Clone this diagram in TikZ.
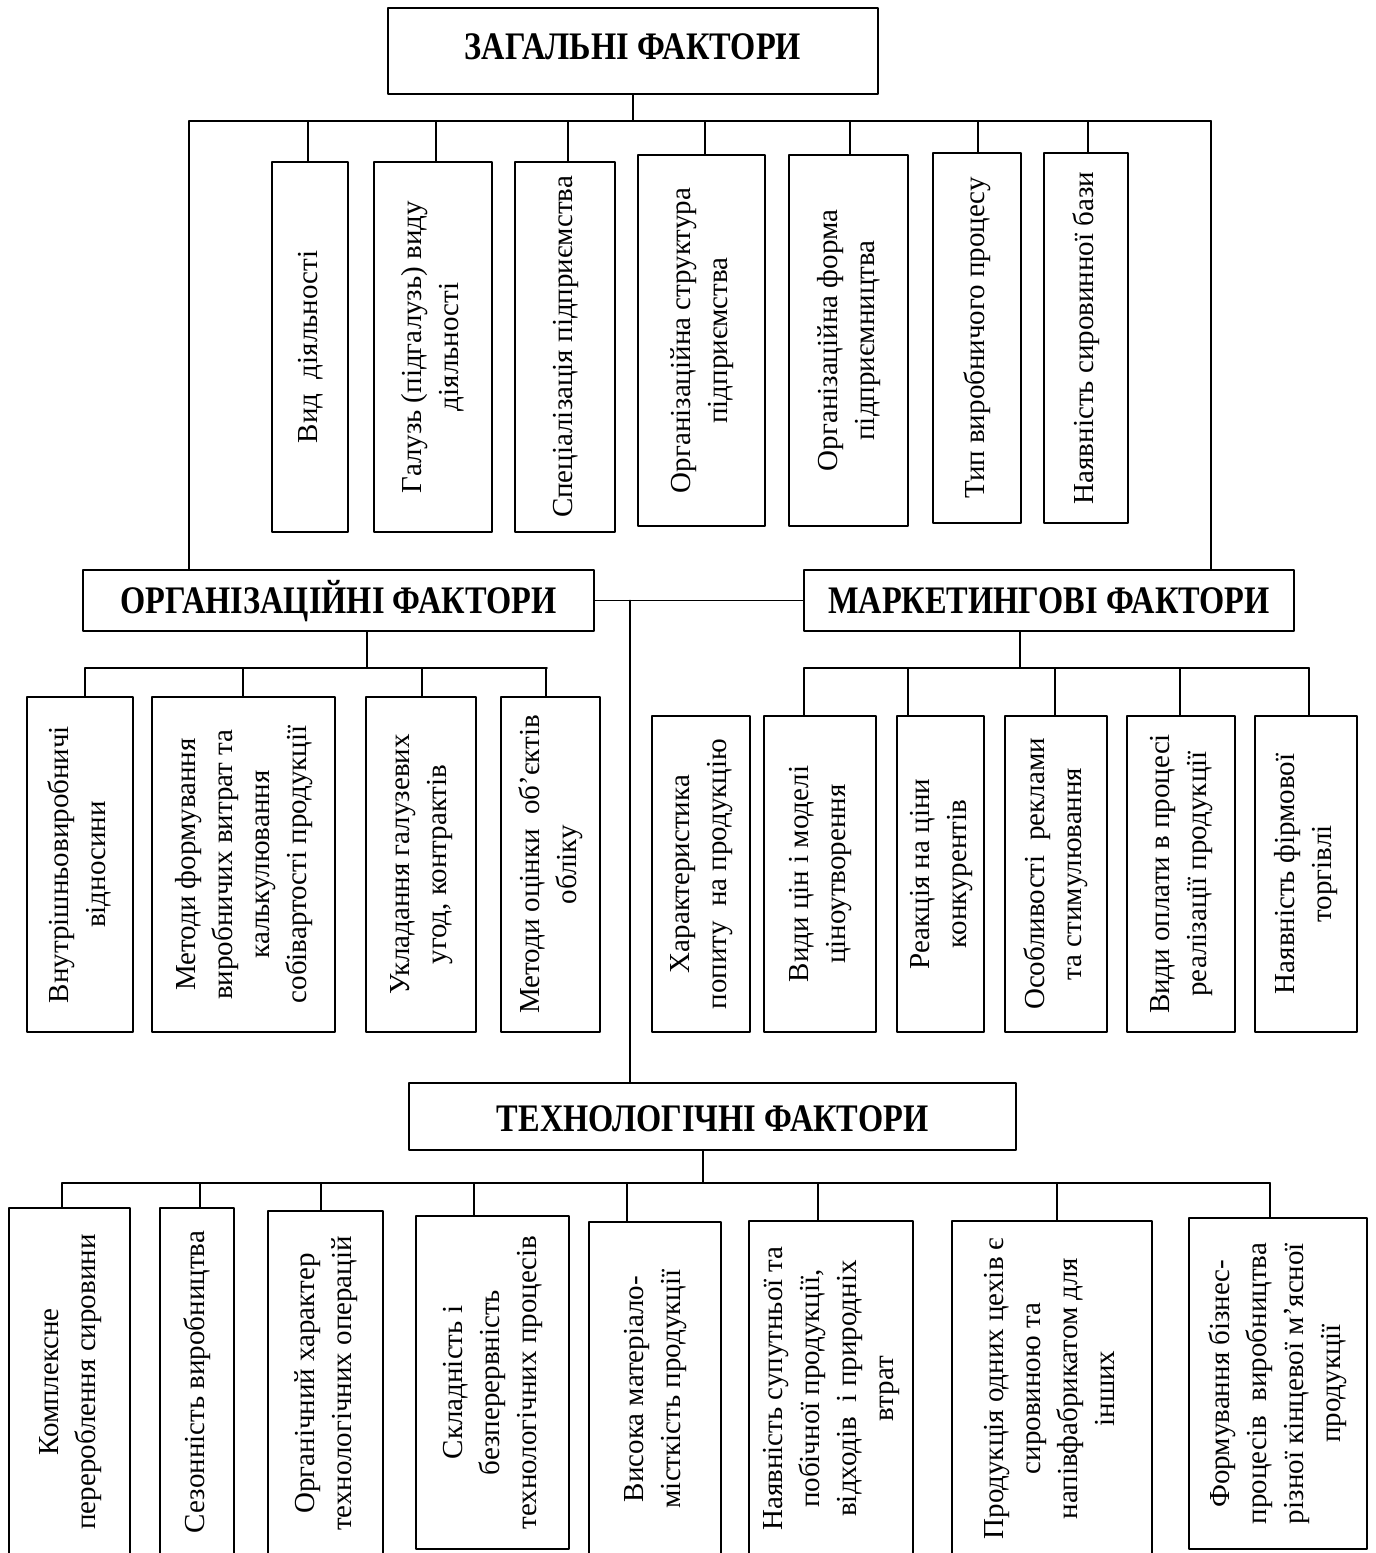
\documentclass[tikz,border=0pt]{standalone}
\usepackage{fontspec}
\setmainfont{Liberation Serif}
\newfontfamily\titlefamily[FakeStretch=0.83]{Liberation Serif}
\usetikzlibrary{calc}

\newcommand\factfont{\fontsize{14.5}{18.5}\selectfont}
\newcommand\titlefont{\titlefamily\bfseries\fontsize{19.5}{22}\selectfont}
\newcommand\vtext[1]{\rotatebox{90}{\begin{tabular}{@{}c@{}}#1\end{tabular}}}

\tikzset{
  factor/.style={draw,line width=0.9pt,inner sep=0pt,font=\factfont},
  headbox/.style={draw,line width=0.9pt,inner sep=0pt,font=\titlefont,text height=13pt,text depth=0pt},
}

\begin{document}
\begin{tikzpicture}[line cap=round,line join=round,x=0.5pt,y=-0.5pt,line width=0.9pt]
  \useasboundingbox (0,0) rectangle (1376,1553);
  \clip (0,0) rectangle (1376,1553);

  % headings
  \node[headbox,minimum width=245pt,minimum height=43pt,text height=8pt] (gen) at (633,51) {ЗАГАЛЬНІ ФАКТОРИ};
  \node[headbox,minimum width=255.5pt,minimum height=30.5pt] (org) at (338.5,600.5) {ОРГАНІЗАЦІЙНІ ФАКТОРИ};
  \node[headbox,minimum width=245pt,minimum height=30.5pt] (mark) at (1049,600.5) {МАРКЕТИНГОВІ ФАКТОРИ};
  \node[headbox,minimum width=303.5pt,minimum height=33.5pt,text height=15pt] (tech) at (712.5,1116.5) {ТЕХНОЛОГІЧНІ ФАКТОРИ};

  % general factors
  \coordinate (gl) at (189,121);
  \coordinate (gr) at (1211,121);
  \draw (gl) -- (gr);
  \draw (gen.south) -- (gen.south |- gl);
  \draw (gl) -- (org.north -| gl);
  \draw (gr) -- (mark.north -| gr);
  \foreach \nm/\l/\t/\r/\b/\sx/\txt in {
    g1/272/162/348/532/308/{Вид\ \ діяльності},
    g2/374/162/492/532/436/{Галузь (підгалузь) виду\\ діяльності},
    g3/515/162/615/532/568/{Спеціалізація підприємства},
    g4/638/155/765/526/705/{Організаційна структура\\ підприємства},
    g5/789/155/908/526/850/{Організаційна форма\\ підприємництва},
    g6/933/153/1021/523/978/{Тип виробничого процесу},
    g7/1044/153/1128/523/1088/{Наявність сировинної бази}}{
    \node[factor,minimum width={(\r-\l)*0.5pt},minimum height={(\b-\t)*0.5pt}] (\nm) at ({(\l+\r)/2},{(\t+\b)/2}) {\vtext{\txt}};
    \draw (\nm.north -| \sx,0) -- (gl -| \sx,0);
  }

  % organizational / marketing / technological links
  \draw (org.east) -- (mark.west);
  \path (org.east) -- (mark.west) coordinate[pos=0.17] (mid);
  \draw (mid) -- (tech.north -| mid);

  % organizational factors
  \coordinate (ol) at (85,668);
  \coordinate (or) at (547,668);
  \draw (ol) -- (or);
  \draw (org.south -| 367,0) -- (ol -| 367,0);
  \foreach \nm/\l/\t/\r/\b/\sx/\txt in {
    o1/27/697/133/1032/85/{Внутрішньовиробничі\\ відносини},
    o2/152/697/335/1032/243/{Методи формування\\ виробничих витрат та\\ калькулювання\\ собівартості продукції},
    o3/366/697/476/1032/422/{Укладання галузевих\\ угод, контрактів},
    o4/501/697/600/1032/546/{Методи оцінки \ об’єктів\\ обліку}}{
    \node[factor,minimum width={(\r-\l)*0.5pt},minimum height={(\b-\t)*0.5pt}] (\nm) at ({(\l+\r)/2},{(\t+\b)/2}) {\vtext{\txt}};
    \draw (\nm.north -| \sx,0) -- (ol -| \sx,0);
  }

  % marketing factors
  \coordinate (ml) at (804,668);
  \coordinate (mr) at (1309,668);
  \draw (ml) -- (mr);
  \draw (mark.south -| 1020,0) -- (ml -| 1020,0);
  \foreach \nm/\l/\t/\r/\b/\txt in {
    m1/652/716/750/1032/{Характеристика\\ попиту \ на продукцію},
    m2/764/716/876/1032/{Види цін і моделі\\ ціноутворення},
    m3/897/716/984/1032/{Реакція на ціни\\ конкурентів},
    m4/1005/716/1107/1032/{Особливості \ реклами\\ та стимулювання},
    m5/1127/716/1235/1032/{Види оплати в процесі\\ реалізації продукції},
    m6/1255/716/1357/1032/{Наявність фірмової\\ торгівлі}}{
    \node[factor,minimum width={(\r-\l)*0.5pt},minimum height={(\b-\t)*0.5pt}] (\nm) at ({(\l+\r)/2},{(\t+\b)/2}) {\vtext{\txt}};
  }
  \foreach \nm/\sx in {m2/804,m3/908,m4/1055,m5/1180,m6/1309}
    \draw (\nm.north -| \sx,0) -- (ml -| \sx,0);

  % technological factors
  \coordinate (tl) at (62,1183);
  \coordinate (tr) at (1270,1183);
  \draw (tl) -- (tr);
  \draw (tech.south -| 703,0) -- (tl -| 703,0);
  \foreach \nm/\l/\t/\r/\b/\sx/\txt in {
    t1/9/1208/130/1556/62/{Комплексне\\ перероблення сировини},
    t2/160/1208/234/1556/200/{Сезонність виробництва},
    t3/268/1211/383/1556/321/{Органічний характер\\ технологічних операцій},
    t4/416/1216/569/1549/474/{Складність і\\ безперервність\\ технологічних процесів},
    t5/589/1222/721/1556/627/{Висока матеріало-\\ місткість продукції},
    t6/749/1221/913/1556/818/{Наявність супутньої та\\ побічної продукції,\\ відходів \ і природніх\\ втрат},
    t7/952/1221/1152/1556/1057/{Продукція одних цехів є\\ сировиною та\\ напівфабрикатом для\\ інших},
    t8/1189/1218/1367/1549/1270/{Формування бізнес-\\ процесів \ виробництва\\ різної кінцевої м’ясної\\ продукції}}{
    \node[factor,minimum width={(\r-\l)*0.5pt},minimum height={(\b-\t)*0.5pt}] (\nm) at ({(\l+\r)/2},{(\t+\b)/2}) {\vtext{\txt}};
    \draw (\nm.north -| \sx,0) -- (tl -| \sx,0);
  }
\end{tikzpicture}
\end{document}
